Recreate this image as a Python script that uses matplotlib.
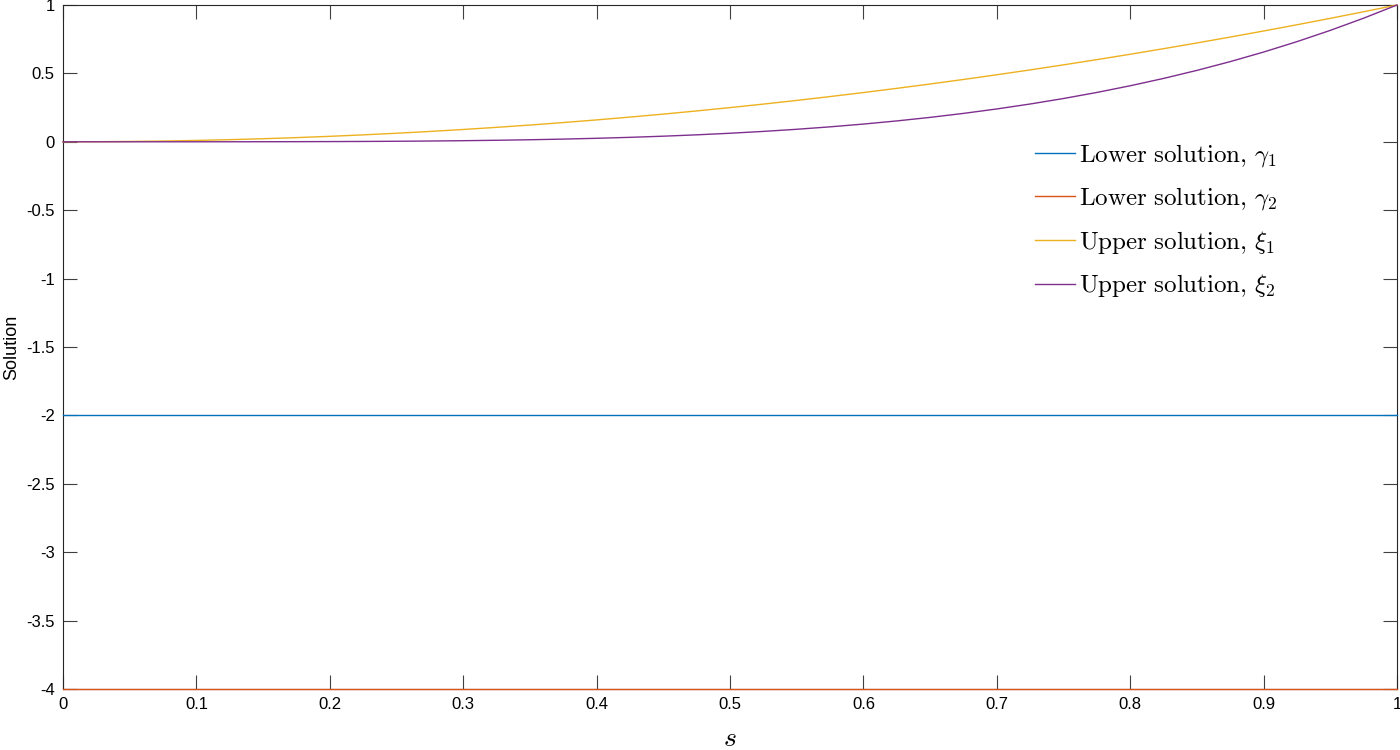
import matplotlib
matplotlib.use("Agg")
import matplotlib.pyplot as plt

# sample positions along s (step 0.025)
s_vals = [0.0, 0.025, 0.05, 0.075, 0.1, 0.125, 0.15, 0.175, 0.2, 0.225, 0.25,
          0.275, 0.3, 0.325, 0.35, 0.375, 0.4, 0.425, 0.45, 0.475, 0.5,
          0.525, 0.55, 0.575, 0.6, 0.625, 0.65, 0.675, 0.7, 0.725, 0.75,
          0.775, 0.8, 0.825, 0.85, 0.875, 0.9, 0.925, 0.95, 0.975, 1.0]

# lower solutions (flat)
gamma1 = [-2.0] * len(s_vals)
gamma2 = [-4.0] * len(s_vals)

# upper solutions
xi1 = [0.0, 0.000625, 0.0025, 0.005625, 0.01, 0.015625, 0.0225, 0.030625, 0.04, 0.050625, 0.0625,
       0.075625, 0.09, 0.105625, 0.1225, 0.140625, 0.16, 0.180625, 0.2025, 0.225625, 0.25,
       0.275625, 0.3025, 0.330625, 0.36, 0.390625, 0.4225, 0.455625, 0.49, 0.525625, 0.5625,
       0.600625, 0.64, 0.680625, 0.7225, 0.765625, 0.81, 0.855625, 0.9025, 0.950625, 1.0]
xi2 = [0.0, 0.0, 0.0000063, 0.0000316, 0.0001, 0.000244, 0.000506, 0.000938, 0.0016, 0.002563, 0.003906,
       0.005719, 0.0081, 0.011157, 0.015006, 0.019775, 0.0256, 0.032625, 0.041006, 0.050907, 0.0625,
       0.075969, 0.091506, 0.109313, 0.1296, 0.152588, 0.178506, 0.207594, 0.2401, 0.276282, 0.316406,
       0.36075, 0.4096, 0.46325, 0.522006, 0.586182, 0.6561, 0.732094, 0.814506, 0.903688, 1.0]

labels = [r"$\mathrm{Lower\ solution,}\,\gamma_1$",
          r"$\mathrm{Lower\ solution,}\,\gamma_2$",
          r"$\mathrm{Upper\ solution,}\,\xi_1$",
          r"$\mathrm{Upper\ solution,}\,\xi_2$"]
colors = ["#0072BD", "#D95319", "#EDB120", "#7E2F8E"]

x_ticks = [0, 0.1, 0.2, 0.3, 0.4, 0.5, 0.6, 0.7, 0.8, 0.9, 1]
y_ticks = [-4, -3.5, -3, -2.5, -2, -1.5, -1, -0.5, 0, 0.5, 1]

plt.rcParams["font.family"] = ["Liberation Sans", "DejaVu Sans"]
plt.rcParams["mathtext.fontset"] = "cm"

fig = plt.figure(figsize=(14, 7.5), dpi=100)
ax = fig.add_axes([63 / 1400, 1 - 689 / 750, (1397 - 63) / 1400, (689 - 5) / 750])

for series, lab, col in zip([gamma1, gamma2, xi1, xi2], labels, colors):
    ax.plot(s_vals, series, color=col, linewidth=1.0, label=lab, zorder=3, clip_on=False)

ax.set_xlim(0, 1)
ax.set_ylim(-4, 1)
ax.set_xticks(x_ticks)
ax.set_xticklabels([f"{t:g}" for t in x_ticks])
ax.set_yticks(y_ticks)
ax.set_yticklabels([f"{t:g}" for t in y_ticks])

ax.tick_params(direction="in", length=10, width=0.8, color="#404040",
               labelsize=12, top=True, right=True, pad=6)
for sp in ax.spines.values():
    sp.set_linewidth(0.8)
    sp.set_color("#262626")

ax.set_xlabel(r"$s$", fontsize=20, labelpad=10)
ax.set_ylabel("Solution", fontsize=13, labelpad=4)

leg = ax.legend(loc="upper left", bbox_to_anchor=(0.7286, 0.80), frameon=False,
                fontsize=18, handlelength=1.6, handletextpad=0.15, labelspacing=0.66,
                borderpad=0, borderaxespad=0)

fig.savefig("out.png", dpi=100)
